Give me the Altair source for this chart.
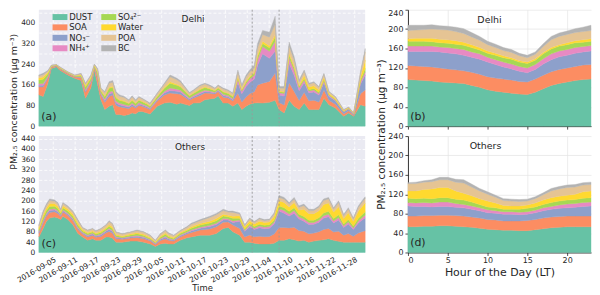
import altair as alt
import pandas as pd

# ---------------- categories / colours ----------------
species = ["DUST", "SOA", "NO₃⁻", "NH₄⁺", "SO₄²⁻", "Water", "POA", "BC"]
colors = ["#66c2a5", "#fc8d62", "#8da0cb", "#e78ac3", "#a6d854", "#ffd92f", "#e5c494", "#b3b3b3"]

region_names = ["Delhi", "Others"]
panel_tags = ["(a)", "(b)", "(c)", "(d)"]

# ---------------- time axis (days since 2016-09-01) ----------------
date_tick_days = [4, 10, 16, 22, 28, 34, 40, 46, 52, 58, 64, 70, 76, 82, 88]
date_tick_labels = ["2016-09-05", "2016-09-11", "2016-09-17", "2016-09-23", "2016-09-29",
                    "2016-10-05", "2016-10-11", "2016-10-17", "2016-10-23", "2016-10-29",
                    "2016-11-04", "2016-11-10", "2016-11-16", "2016-11-22", "2016-11-28"]
event_days = [59.5, 67.0]

# ---------------- Delhi time series ----------------
delhi_day = [0.0, 1.2, 2.5, 3.5, 4.9, 5.8, 8.1, 10.0, 11.8, 13.0, 14.5, 15.5, 16.4, 17.3, 18.4, 19.6,
             20.6, 21.5, 22.4, 23.8, 25.1, 26.0, 27.0, 27.9, 28.8, 30.2, 31.0, 33.0, 35.0, 36.6, 38.5,
             39.5, 42.0, 43.1, 44.9, 46.3, 47.7, 49.1, 50.0, 51.4, 52.8, 54.1, 55.5, 56.6, 57.8, 58.8,
             60.1, 61.0, 62.4, 64.3, 65.9, 67.0, 68.4, 69.8, 71.2, 72.6, 74.0, 75.3, 76.7, 78.1, 79.5,
             80.9, 82.7, 85.0, 86.4, 87.8, 89.7, 91.0]
delhi_dust = [121, 115, 165, 223, 230, 217, 198, 185, 176, 108, 147, 217, 160, 102, 64, 77, 83, 45, 45, 41,
              45, 51, 48, 57, 57, 51, 47, 77, 89, 92, 85, 89, 80, 89, 90, 102, 105, 108, 117, 89, 89, 77,
              89, 64, 77, 85, 89, 90, 89, 92, 100, 64, 51, 100, 77, 64, 89, 64, 64, 64, 108, 83, 70, 38,
              51, 38, 83, 77]
delhi_soa = [31, 36, 20, 5, 3, 5, 5, 5, 11, 23, 20, 9, 25, 18, 28, 38, 37, 36, 30, 30, 23, 26, 22, 23, 20,
             18, 17, 20, 31, 36, 40, 34, 20, 20, 28, 26, 22, 16, 17, 23, 20, 20, 38, 29, 36, 40, 44, 69,
             77, 81, 105, 27, 31, 68, 57, 35, 42, 34, 36, 29, 32, 17, 15, 9, 8, 4, 42, 63]
delhi_no3 = [6, 7, 4, 1, 1, 1, 1, 1, 2, 5, 4, 2, 5, 5, 7, 9, 9, 9, 8, 7, 6, 7, 5, 6, 5, 5, 4, 5, 8, 10, 10,
             9, 5, 5, 7, 6, 5, 4, 4, 6, 5, 5, 42, 32, 40, 44, 49, 76, 114, 89, 85, 29, 34, 74, 63, 38, 38,
             31, 32, 27, 29, 15, 13, 8, 7, 4, 38, 58]
delhi_nh4 = [6, 7, 4, 1, 1, 1, 1, 1, 2, 5, 4, 2, 5, 4, 6, 8, 7, 7, 6, 6, 5, 5, 4, 5, 4, 4, 3, 4, 6, 9, 8, 7,
             4, 4, 6, 5, 4, 3, 3, 5, 4, 4, 13, 10, 12, 13, 15, 23, 28, 27, 38, 9, 10, 22, 19, 11, 9, 7, 8,
             6, 7, 4, 3, 2, 2, 1, 9, 12]
delhi_so4 = [14, 16, 9, 2, 1, 2, 2, 2, 5, 10, 9, 4, 11, 7, 10, 14, 14, 13, 11, 11, 8, 10, 8, 9, 8, 7, 6, 8,
             12, 19, 15, 13, 8, 8, 10, 10, 8, 6, 6, 9, 8, 8, 6, 5, 6, 7, 7, 11, 11, 14, 17, 4, 5, 11, 10,
             6, 6, 5, 5, 5, 5, 3, 2, 1, 1, 1, 6, 13]
delhi_water = [8, 9, 5, 1, 1, 1, 1, 1, 3, 6, 5, 2, 6, 2, 3, 4, 4, 4, 3, 3, 2, 3, 2, 2, 2, 2, 2, 2, 3, 6, 4,
               3, 2, 2, 3, 3, 2, 2, 2, 2, 2, 2, 4, 3, 4, 4, 4, 7, 9, 8, 9, 3, 3, 7, 6, 3, 13, 10, 11, 9, 9,
               5, 5, 3, 2, 1, 13, 32]
delhi_poa = [8, 9, 5, 2, 0, 2, 1, 2, 3, 6, 6, 2, 7, 7, 12, 16, 16, 15, 13, 13, 10, 11, 9, 10, 9, 7, 7, 9,
             13, 19, 17, 15, 8, 9, 11, 11, 9, 6, 7, 10, 9, 9, 16, 11, 15, 16, 18, 27, 26, 33, 40, 11, 12,
             27, 23, 14, 14, 11, 12, 10, 10, 5, 5, 2, 2, 1, 14, 32]
delhi_bc = [4, 5, 3, 1, 1, 1, 1, 1, 2, 3, 3, 2, 4, 2, 4, 6, 6, 5, 5, 4, 3, 4, 4, 3, 3, 2, 3, 3, 4, 7, 6, 5,
            3, 3, 4, 3, 4, 2, 3, 3, 3, 3, 9, 6, 8, 8, 10, 16, 16, 19, 31, 6, 7, 16, 13, 8, 6, 4, 4, 3, 4,
            2, 2, 1, 1, 1, 5, 13]

# ---------------- Others time series ----------------
others_day = [0.0, 1.2, 2.1, 3.0, 4.4, 5.3, 6.1, 6.7, 8.1, 9.5, 10.9, 12.2, 13.6, 15.0, 15.9, 17.3, 18.7,
              19.6, 20.5, 21.5, 23.3, 25.6, 27.4, 29.3, 31.1, 32.5, 33.9, 35.3, 36.2, 37.6, 39.4, 41.3,
              42.5, 45.0, 47.7, 49.5, 51.4, 52.8, 54.1, 56.0, 57.4, 58.8, 60.1, 61.5, 62.9, 64.3, 65.6,
              67.0, 68.4, 69.8, 71.2, 72.5, 73.9, 75.3, 76.7, 78.1, 79.4, 80.8, 82.2, 83.6, 85.0, 86.3,
              87.7, 89.1, 90.5, 91.0]
others_dust = [60, 93, 120, 133, 137, 133, 127, 140, 127, 107, 73, 60, 47, 53, 47, 47, 60, 60, 56, 40, 40,
               44, 44, 40, 33, 23, 33, 36, 33, 33, 47, 57, 60, 67, 67, 73, 93, 97, 80, 67, 40, 40, 36, 33,
               33, 33, 36, 47, 47, 53, 49, 44, 47, 40, 44, 47, 49, 53, 47, 43, 40, 40, 40, 40, 40, 40]
others_soa = [14, 20, 20, 22, 20, 18, 12, 16, 16, 16, 16, 11, 13, 13, 12, 15, 16, 21, 19, 13, 11, 12, 14,
              13, 11, 8, 13, 17, 14, 11, 13, 14, 17, 20, 24, 26, 24, 21, 26, 26, 20, 28, 25, 30, 28, 29,
              35, 50, 50, 42, 49, 41, 35, 32, 31, 33, 40, 40, 32, 39, 27, 33, 23, 35, 42, 44]
others_no3 = [5, 7, 7, 7, 7, 6, 4, 5, 5, 5, 5, 4, 5, 5, 4, 6, 6, 8, 7, 5, 4, 4, 5, 5, 4, 3, 5, 6, 5, 4, 5,
              5, 6, 7, 9, 9, 9, 8, 10, 28, 22, 31, 28, 33, 31, 32, 39, 63, 55, 46, 54, 45, 39, 36, 34, 37,
              44, 45, 35, 44, 30, 37, 26, 39, 47, 49]
others_nh4 = [3, 5, 5, 5, 5, 4, 3, 4, 4, 4, 4, 3, 3, 3, 3, 3, 3, 4, 4, 3, 2, 3, 3, 3, 2, 2, 3, 4, 3, 2, 3,
              3, 4, 4, 5, 5, 5, 4, 6, 5, 4, 6, 5, 6, 6, 6, 7, 9, 10, 8, 10, 8, 8, 8, 7, 8, 9, 10, 8, 9, 6,
              8, 6, 8, 10, 11]
others_so4 = [7, 10, 10, 11, 10, 9, 6, 8, 8, 8, 8, 5, 5, 5, 5, 6, 6, 8, 7, 5, 4, 5, 6, 5, 4, 3, 5, 7, 6,
              4, 5, 6, 7, 8, 9, 10, 10, 8, 10, 6, 5, 6, 6, 7, 7, 7, 8, 11, 11, 10, 11, 10, 10, 9, 9, 9, 11,
              11, 9, 11, 7, 9, 7, 10, 12, 12]
others_water = [7, 10, 10, 11, 10, 9, 6, 8, 8, 8, 8, 6, 4, 4, 4, 5, 5, 6, 6, 4, 3, 4, 4, 4, 4, 2, 4, 5, 4,
                4, 4, 4, 5, 6, 7, 8, 7, 6, 8, 10, 8, 11, 10, 12, 11, 11, 14, 20, 20, 17, 20, 16, 28, 25, 25,
                27, 32, 32, 25, 31, 21, 27, 19, 28, 33, 35]
others_poa = [7, 10, 10, 12, 9, 9, 6, 8, 8, 8, 9, 6, 8, 8, 7, 9, 9, 12, 11, 8, 7, 6, 8, 8, 7, 5, 8, 9, 8,
              7, 6, 8, 10, 11, 14, 15, 14, 12, 15, 7, 5, 7, 7, 8, 7, 8, 9, 13, 13, 11, 13, 11, 14, 12, 12,
              14, 16, 16, 12, 16, 11, 14, 9, 14, 16, 17]
others_bc = [4, 5, 5, 6, 5, 5, 3, 4, 4, 4, 4, 2, 2, 2, 2, 2, 2, 4, 3, 2, 2, 2, 3, 2, 2, 1, 2, 3, 3, 2, 2, 3,
             4, 4, 5, 5, 5, 4, 5, 4, 3, 4, 3, 4, 4, 3, 5, 7, 7, 6, 7, 5, 6, 5, 5, 5, 6, 6, 5, 7, 5, 5, 3,
             6, 7, 7]

# ---------------- diurnal profiles ----------------
hours = list(range(24))
hour_ticks = [0, 5, 10, 15, 20]
d_dust = [96, 95, 94, 93, 91, 90, 89, 88, 84, 80, 75, 72, 70, 68, 66, 65, 70, 77, 84, 88, 91, 94, 96, 97]
d_soa = [29, 29, 29, 29, 29, 28, 27, 26, 27, 27, 27, 27, 27, 27, 26, 26, 27, 28, 28, 29, 29, 29, 30, 30]
d_no3 = [29, 30, 31, 32, 33, 33, 33, 32, 31, 31, 30, 28, 25, 23, 21, 19, 20, 23, 25, 26, 26, 27, 27, 28]
d_nh4 = [11, 11, 11, 11, 10, 11, 11, 12, 11, 11, 10, 10, 10, 10, 10, 10, 10, 11, 12, 12, 12, 12, 11, 11]
d_so4 = [10, 10, 10, 9, 9, 9, 9, 9, 9, 8, 8, 9, 9, 10, 9, 9, 9, 10, 10, 10, 10, 10, 9, 9]
d_water = [5, 6, 6, 7, 7, 7, 7, 6, 6, 5, 5, 4, 4, 3, 3, 3, 3, 3, 3, 3, 4, 4, 5, 5]
d_poa = [17, 17, 18, 19, 20, 20, 19, 18, 16, 15, 13, 12, 11, 11, 10, 9, 9, 12, 16, 17, 17, 17, 17, 17]
d_bc = [11, 10, 9, 9, 8, 8, 9, 10, 9, 8, 7, 7, 6, 6, 5, 5, 5, 6, 7, 7, 7, 8, 9, 11]

o_dust = [53, 53, 54, 54, 55, 55, 54, 53, 52, 50, 48, 47, 46, 46, 45, 45, 47, 49, 51, 52, 53, 53, 53, 53]
o_soa = [22, 22, 22, 22, 22, 22, 22, 22, 21, 21, 20, 20, 19, 19, 20, 21, 21, 22, 22, 22, 22, 22, 22, 22]
o_no3 = [21, 20, 19, 18, 18, 18, 17, 17, 16, 15, 14, 14, 14, 14, 13, 13, 14, 15, 16, 17, 17, 18, 20, 21]
o_nh4 = [7, 7, 8, 8, 9, 9, 8, 7, 7, 6, 6, 5, 5, 5, 5, 5, 5, 6, 6, 7, 8, 8, 8, 8]
o_so4 = [9, 9, 9, 9, 9, 9, 9, 9, 8, 7, 6, 6, 5, 5, 6, 7, 7, 7, 8, 8, 8, 8, 9, 9]
o_water = [15, 16, 18, 20, 21, 21, 17, 14, 13, 12, 12, 10, 8, 7, 7, 7, 8, 9, 10, 10, 10, 11, 13, 14]
o_poa = [15, 15, 15, 15, 16, 16, 18, 21, 18, 16, 14, 12, 10, 10, 9, 8, 9, 11, 14, 15, 16, 15, 14, 13]
o_bc = [2, 3, 3, 4, 5, 5, 6, 7, 6, 5, 5, 4, 4, 4, 4, 4, 4, 4, 5, 5, 5, 5, 5, 5]

# ---------------- build tables ----------------
def long_df(xs, cols):
    rows = []
    for k, (name, col) in enumerate(zip(species, cols)):
        for x, v in zip(xs, col):
            rows.append({"x": x, "sp": name, "k": k, "v": v})
    return pd.DataFrame(rows)

df_a = long_df(delhi_day, [delhi_dust, delhi_soa, delhi_no3, delhi_nh4, delhi_so4, delhi_water, delhi_poa, delhi_bc])
df_c = long_df(others_day, [others_dust, others_soa, others_no3, others_nh4, others_so4, others_water, others_poa, others_bc])
df_b = long_df(hours, [d_dust, d_soa, d_no3, d_nh4, d_so4, d_water, d_poa, d_bc])
df_d = long_df(hours, [o_dust, o_soa, o_no3, o_nh4, o_so4, o_water, o_poa, o_bc])

FONT = "DejaVu Sans"
TXT = "#262626"
YTITLE = "PM₂.₅ concentration (μg m⁻³)"

color_scale = alt.Scale(domain=species, range=colors)
legend = alt.Legend(title=None, orient="none", legendX=17, legendY=3, columns=2,
                    symbolType="M-2,-0.8L2,-0.8L2,0.8L-2,0.8Z", symbolSize=56,
                    symbolStrokeWidth=0, symbolOpacity=1, labelFontSize=8.5, labelFont=FONT,
                    labelColor=TXT, rowPadding=1.5, columnPadding=8, padding=0, labelOffset=5)

label_expr = "[" + ",".join("'%s'" % s for s in date_tick_labels) + "][round((datum.value - 4) / 6)]"

LW, LH = 328, 117
RW, RH = 184, 117


def area(df, xenc, yenc):
    return alt.Chart(df).mark_area(interpolate="linear", strokeWidth=0.4).encode(
        x=xenc, y=yenc,
        color=alt.Color("sp:N", scale=color_scale, legend=legend),
        stroke=alt.Stroke("sp:N", scale=color_scale, legend=None),
        order=alt.Order("k:Q"),
    )


def note(text, x, y, size):
    return alt.Chart(pd.DataFrame({"t": [text]})).mark_text(
        font=FONT, fontSize=size, color=TXT, align="center", baseline="middle"
    ).encode(text="t:N", x=alt.value(x), y=alt.value(y))


def events(xenc):
    return alt.Chart(pd.DataFrame({"x": event_days})).mark_rule(
        color="#9a9a9a", strokeDash=[2, 2], strokeWidth=0.9
    ).encode(x=xenc)


ly_values = list(range(0, 441, 40))
top_cond_l = {"condition": {"test": "datum.value >= 440", "value": "top"}, "value": "middle"}
top_cond_r = {"condition": {"test": "datum.value >= 240", "value": "top"}, "value": "middle"}

left_grid = dict(grid=True, gridColor="white", gridWidth=0.8, gridDash=[3, 2], domain=False)
day_scale = alt.Scale(domain=[0, 91], nice=False, zero=False)

# ---- panel a ----
xa = alt.X("x:Q", scale=day_scale,
           axis=alt.Axis(values=date_tick_days, labels=False, ticks=False, title=None, **left_grid))
ya = alt.Y("v:Q", stack="zero", scale=alt.Scale(domain=[0, 450], nice=False),
           axis=alt.Axis(values=ly_values, ticks=False, labelFontSize=7.5, labelPadding=4,
                         labelBaseline=top_cond_l,
                         title=YTITLE, titleFontSize=9.5, titleFontWeight="normal", titleAngle=270,
                         titleAlign="center", titleBaseline="middle", titleX=-25, titleY=92,
                         **left_grid))
panel_a = alt.layer(
    area(df_a, xa, ya), events(xa),
    note(region_names[0], 155, 9, 9), note(panel_tags[0], 10, 108, 11),
).properties(width=LW, height=LH, view=alt.ViewBackground(fill="#EAEAF2", strokeWidth=0))

# ---- panel c ----
xc = alt.X("x:Q", scale=day_scale,
           axis=alt.Axis(values=date_tick_days, labelExpr=label_expr, labelAngle=-30,
                         labelAlign="right", labelBaseline="top", labelFontSize=7.5, ticks=False,
                         labelPadding=3, labelOverlap=False, labelBound=False,
                         title="Time", titleFontSize=8.5, titleFontWeight="normal",
                         titleBaseline="middle", titleY=35, **left_grid))
yc = alt.Y("v:Q", stack="zero", scale=alt.Scale(domain=[0, 450], nice=False),
           axis=alt.Axis(values=ly_values, ticks=False, labelFontSize=7.5, labelPadding=4,
                         title=None, **left_grid))
panel_c = alt.layer(
    area(df_c, xc, yc), events(xc),
    note(region_names[1], 152, 11, 9), note(panel_tags[2], 10, 108, 11),
).properties(width=LW, height=LH, view=alt.ViewBackground(fill="#EAEAF2", strokeWidth=0))

# ---- right panels ----
right_common = dict(grid=True, gridColor="#e4e4e4", gridWidth=0.7, domain=True, domainColor="#222",
                    domainWidth=0.9, ticks=True, tickColor="#222", tickSize=3, tickWidth=0.8)
ry_values = list(range(0, 241, 40))

xb = alt.X("x:Q", scale=alt.Scale(domain=[0, 23], nice=False, zero=False),
           axis=alt.Axis(values=hour_ticks, labels=False, title=None, **right_common))
yb = alt.Y("v:Q", stack="zero", scale=alt.Scale(domain=[0, 240], nice=False),
           axis=alt.Axis(values=ry_values, labelFontSize=8, labelPadding=2, labelBaseline=top_cond_r,
                         title=YTITLE, titleFontSize=10.5, titleFontWeight="normal", titleAngle=270,
                         titleAlign="center", titleBaseline="middle", titleX=-27, titleY=125,
                         **right_common))
panel_b = alt.layer(
    area(df_b, xb, yb),
    note(region_names[0], 82, 10, 9.5), note(panel_tags[1], 10, 108, 11),
).properties(width=RW, height=RH, view=alt.ViewBackground(fill="white", strokeWidth=0))

xd = alt.X("x:Q", scale=alt.Scale(domain=[0, 23], nice=False, zero=False),
           axis=alt.Axis(values=hour_ticks, labelFontSize=8, labelPadding=1,
                         title="Hour of the Day (LT)", titleFontSize=11, titleFontWeight="normal",
                         titleBaseline="middle", titleY=20, **right_common))
yd = alt.Y("v:Q", stack="zero", scale=alt.Scale(domain=[0, 240], nice=False),
           axis=alt.Axis(values=ry_values, labelFontSize=8, labelPadding=2, title=None, **right_common))
panel_d = alt.layer(
    area(df_d, xd, yd),
    note(region_names[1], 78, 10, 9.5), note(panel_tags[3], 10, 107, 11),
).properties(width=RW, height=RH, view=alt.ViewBackground(fill="white", strokeWidth=0))

chart = alt.concat(
    panel_a, panel_b, panel_c, panel_d,
    columns=2, spacing={"row": 10, "column": 43}, bounds="flush", padding=0,
).configure(
    font=FONT
).configure_axis(
    labelFont=FONT, titleFont=FONT, labelColor=TXT, titleColor=TXT
).configure_view(strokeWidth=0)

chart.save("out.html", embed_options={"renderer": "svg", "actions": False})
